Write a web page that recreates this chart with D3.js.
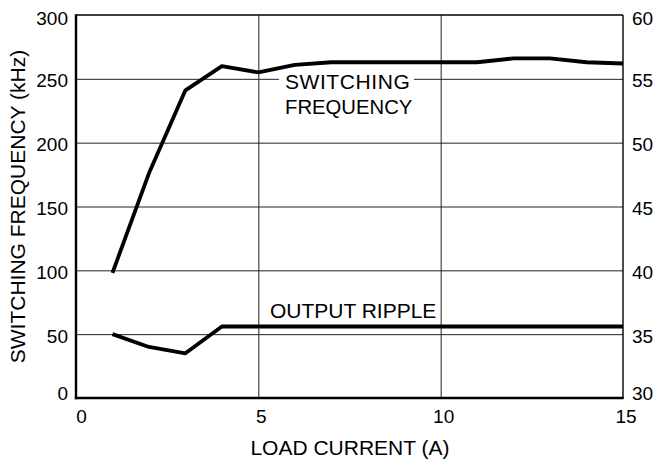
<!DOCTYPE html>
<html>
<head>
<meta charset="utf-8">
<script src="https://cdn.jsdelivr.net/npm/d3@7"></script>
<style>
  html, body { margin: 0; padding: 0; background: #fff; }
  svg { display: block; }
  text { font-family: "Liberation Sans", Arial, Helvetica, sans-serif; fill: #000; }
</style>
</head>
<body>
<svg id="chart" width="658" height="459"></svg>
<script>
// ---- data ----
const loadCurrent = [1, 2, 3, 4, 5, 6, 7, 8, 9, 10, 11, 12, 13, 14, 15];
const switchingFreq = [98, 176, 241, 260, 255, 261, 263, 263, 263, 263, 263, 266, 266, 263, 262]; // kHz (left axis)
const outputRipple = [35.0, 34.0, 33.5, 35.6, 35.6, 35.6, 35.6, 35.6, 35.6, 35.6, 35.6, 35.6, 35.6, 35.6, 35.6]; // right axis
const xTicks = [0, 5, 10, 15];
const leftTicks = [0, 50, 100, 150, 200, 250, 300];
const rightTicks = [30, 35, 40, 45, 50, 55, 60];

// ---- layout ----
const L = 76, R = 623, T = 15, B = 398;
const W = R - L, H = B - T;
const svg = d3.select("#chart");

const x = d3.scaleLinear().domain([0, 15]).range([L, R]);
const yL = d3.scaleLinear().domain([0, 300]).range([B, T]);
const yR = d3.scaleLinear().domain([30, 60]).range([B, T]);

// ---- grid ----
const grid = svg.append("g").attr("class", "grid");
grid.append("g")
  .attr("transform", `translate(${L},0)`)
  .call(d3.axisLeft(yL).tickValues([50, 100, 150, 200, 250]).tickSize(-W).tickFormat(""))
  .call(g => g.select(".domain").remove())
  .selectAll("line").attr("stroke", "#222").attr("stroke-width", 1);
grid.append("g")
  .attr("transform", `translate(0,${B})`)
  .call(d3.axisBottom(x).tickValues([5, 10]).tickSize(-H).tickFormat(""))
  .call(g => g.select(".domain").remove())
  .selectAll("line").attr("stroke", "#222").attr("stroke-width", 1);

// ---- label for switching frequency (with white background cutting the grid) ----
const swX = x(7.45);
svg.append("rect").attr("x", 279).attr("y", yL(250) - 8).attr("width", 135).attr("height", 16).attr("fill", "#fff");
svg.append("text").attr("x", swX).attr("y", 88.5).attr("text-anchor", "middle")
  .attr("font-size", 21).attr("letter-spacing", 0.6).text("SWITCHING");
svg.append("text").attr("x", swX + 1).attr("y", 114).attr("text-anchor", "middle")
  .attr("font-size", 20.3).text("FREQUENCY");
svg.append("text").attr("x", x(7.6)).attr("y", 317.5).attr("text-anchor", "middle")
  .attr("font-size", 21).text("OUTPUT RIPPLE");

// ---- frame ----
svg.append("line").attr("x1", L).attr("x2", R).attr("y1", T).attr("y2", T).attr("stroke", "#000").attr("stroke-width", 1.4);
svg.append("line").attr("x1", R).attr("x2", R).attr("y1", T).attr("y2", B).attr("stroke", "#000").attr("stroke-width", 1.4);
svg.append("line").attr("x1", L).attr("x2", L).attr("y1", T - 0.7).attr("y2", B + 1.2).attr("stroke", "#000").attr("stroke-width", 2.4);
svg.append("line").attr("x1", L - 1.2).attr("x2", R + 0.7).attr("y1", B).attr("y2", B).attr("stroke", "#000").attr("stroke-width", 2.4);

// ---- data lines ----
const freqLine = d3.line().x((d, i) => x(loadCurrent[i])).y(d => yL(d));
const rippleLine = d3.line().x((d, i) => x(loadCurrent[i])).y(d => yR(d));
svg.append("path").datum(switchingFreq).attr("d", freqLine)
  .attr("fill", "none").attr("stroke", "#000").attr("stroke-width", 3.8).attr("stroke-linejoin", "round");
svg.append("path").datum(outputRipple).attr("d", rippleLine)
  .attr("fill", "none").attr("stroke", "#000").attr("stroke-width", 3.8).attr("stroke-linejoin", "round");

// ---- tick labels ----
const tickFont = 19;
function yShift(i, n) { return i === 0 ? -5.5 : (i === n - 1 ? 3 : 1.5); }
svg.append("g")
  .attr("transform", `translate(${L},0)`)
  .call(d3.axisLeft(yL).tickValues(leftTicks).tickSize(0).tickPadding(8))
  .call(g => g.select(".domain").remove())
  .selectAll("text")
  .attr("font-size", tickFont).attr("font-family", null)
  .attr("dy", (d, i) => (yShift(i, leftTicks.length) + tickFont * 0.35) + "px");
svg.append("g")
  .attr("transform", `translate(${R},0)`)
  .call(d3.axisRight(yR).tickValues(rightTicks).tickSize(0).tickPadding(9))
  .call(g => g.select(".domain").remove())
  .selectAll("text")
  .attr("font-size", tickFont).attr("font-family", null)
  .attr("dy", (d, i) => (yShift(i, rightTicks.length) + tickFont * 0.35) + "px");
svg.append("g")
  .attr("transform", `translate(0,${B})`)
  .call(d3.axisBottom(x).tickValues(xTicks).tickSize(0).tickPadding(0))
  .call(g => g.select(".domain").remove())
  .selectAll("text")
  .attr("font-size", tickFont).attr("font-family", null)
  .attr("dy", null).attr("y", 25)
  .attr("dx", (d, i) => (i === 0 ? 5 : 2.5));

svg.selectAll(".tick text").attr("fill", "#000");

// ---- axis titles ----
svg.append("text").attr("transform", `translate(25,${(T + B) / 2}) rotate(-90)`)
  .attr("text-anchor", "middle").attr("font-size", 21).text("SWITCHING FREQUENCY (kHz)");
svg.append("text").attr("x", (L + R) / 2 + 0.5).attr("y", 454.5)
  .attr("text-anchor", "middle").attr("font-size", 21).text("LOAD CURRENT (A)");
</script>
</body>
</html>
